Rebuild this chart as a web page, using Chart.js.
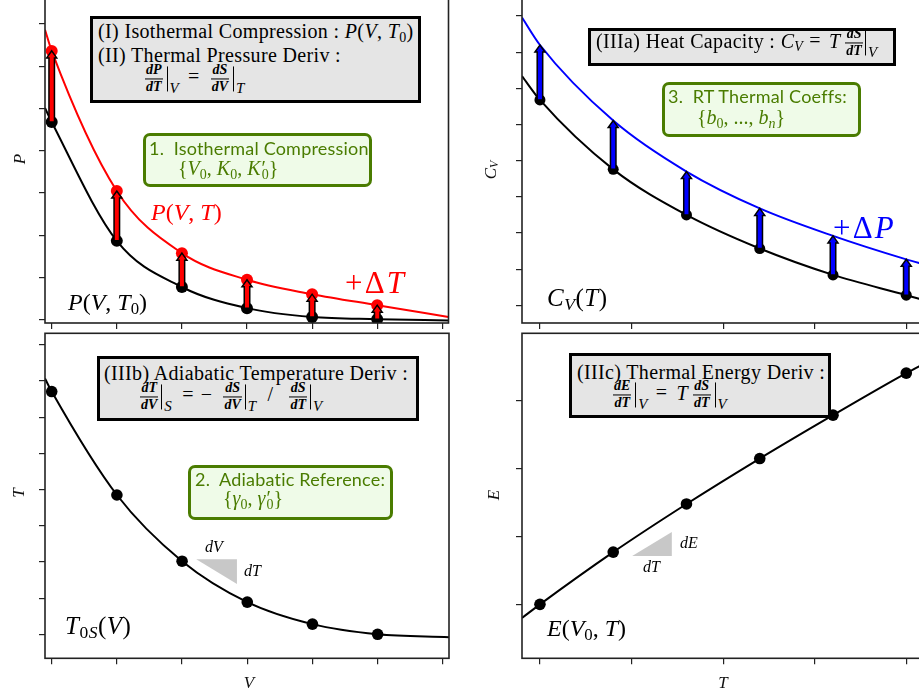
<!DOCTYPE html>
<html><head><meta charset="utf-8">
<script src="https://cdn.jsdelivr.net/npm/chart.js@4.4.1/dist/chart.umd.min.js"></script>
<style>
html,body{margin:0;padding:0;background:#fff;width:919px;height:696px;overflow:hidden;position:relative}
canvas{position:absolute;left:0;top:-10px}
.box{position:absolute;box-sizing:border-box;background:#e5e5e5;border:3px solid #000}
.gbox{position:absolute;box-sizing:border-box;background:#effbe8;border:3px solid #4a7c00;border-radius:7px}
.tx{position:absolute;white-space:nowrap;line-height:1;transform:translateY(-50%);font-family:'Liberation Serif',serif;color:#000}
.bx{font-size:20px;letter-spacing:0.35px}
.sf{font-family:'Lato',sans-serif;color:#4a7c00;font-size:18px;letter-spacing:0.2px}
.gm{color:#4a7c00}
.wide{letter-spacing:0.07em}
i{font-style:italic}
sub{font-size:70%;vertical-align:-0.25em;line-height:0}
.pr{margin-left:1px}
.ps{margin-left:-0.3em}
.fr{display:inline-block;vertical-align:middle;text-align:center;font-size:14px;line-height:1.0;font-style:italic;font-weight:bold;letter-spacing:0}
.fr .n{display:block;border-bottom:1px solid #000;padding:0 1px 1px}
.fr .d{display:block;padding:1px 1px 0}
.bar{display:inline-block;vertical-align:middle;border-left:1.3px solid #000;height:25px;margin-left:4px}
.bs{display:inline-block;vertical-align:-10px;font-style:italic;font-size:15px;line-height:1;margin-left:2px}
.eq{margin:0 11px 0 9px}
.ax{position:absolute;white-space:nowrap;line-height:1;font-family:'Liberation Serif',serif;font-style:italic;font-size:17px;color:#111;transform:translate(-50%,-50%)}
.rot{transform:translate(-50%,-50%) rotate(-90deg)}
</style></head>
<body>
<canvas id="cTL" width="960" height="720"></canvas>
<canvas id="cTR" width="960" height="720"></canvas>
<canvas id="cBL" width="960" height="720"></canvas>
<canvas id="cBR" width="960" height="720"></canvas>

<!-- Top-left annotations -->
<div class="box" style="left:90px;top:16px;width:331px;height:87px"></div>
<div class="tx bx" style="left:98px;top:31px">(I) Isothermal Compression : <i>P</i>(<i>V</i>, <i>T</i><sub>0</sub>)</div>
<div class="tx bx" style="left:98px;top:55px">(II) Thermal Pressure Deriv :</div>
<div class="tx bx" style="left:145px;top:80px"><span class="fr"><span class="n">dP</span><span class="d">dT</span></span><span class="bar"></span><span class="bs">V</span><span class="eq">=</span><span class="fr"><span class="n">dS</span><span class="d">dV</span></span><span class="bar"></span><span class="bs">T</span></div>
<div class="gbox" style="left:143px;top:133px;width:229px;height:54px"></div>
<div class="tx sf" style="left:149px;top:148px">1.&nbsp; Isothermal Compression</div>
<div class="tx gm" style="left:178px;top:168px;font-size:20px">{<i>V</i><sub>0</sub>, <i>K</i><sub>0</sub>, <i>K</i><span class="pr">′</span><sub class="ps">0</sub>}</div>
<div class="tx" style="left:151px;top:212px;font-size:24px;color:#f00"><i>P</i>(<i>V</i>, <i>T</i>)</div>
<div class="tx wide" style="left:345px;top:282px;font-size:31px;color:#f00">+Δ<i>T</i></div>
<div class="tx" style="left:68px;top:302px;font-size:24px"><i>P</i>(<i>V</i>, <i>T</i><sub>0</sub>)</div>
<div class="ax rot" style="left:19px;top:159px">P</div>

<!-- Top-right annotations -->
<div class="box" style="left:588px;top:28px;width:308px;height:38px"></div>
<div class="tx bx" style="left:596px;top:44px">(IIIa) Heat Capacity : <i>C</i><sub><i>V</i></sub><span style="margin:0 8px 0 6px">=</span><i>T</i><span style="margin-left:5px"></span><span class="fr"><span class="n">dS</span><span class="d">dT</span></span><span class="bar" style="margin-left:2px"></span><span class="bs">V</span></div>
<div class="gbox" style="left:662px;top:82px;width:199px;height:55px"></div>
<div class="tx sf" style="left:668px;top:96px">3.&nbsp; RT Thermal Coeffs:</div>
<div class="tx gm" style="left:697px;top:117px;font-size:20px">{<i>b</i><sub>0</sub>, ..., <i>b</i><sub><i>n</i></sub>}</div>
<div class="tx wide" style="left:833px;top:227px;font-size:31px;color:#00f">+Δ<i>P</i></div>
<div class="tx" style="left:547px;top:297px;font-size:25px;letter-spacing:0.5px"><i>C</i><sub><i>V</i></sub>(<i>T</i>)</div>
<div class="ax rot" style="left:490px;top:170px"><i>C</i><sub><i>V</i></sub></div>

<!-- Bottom-left annotations -->
<div class="box" style="left:97px;top:356px;width:322px;height:65px"></div>
<div class="tx bx" style="left:104px;top:373px">(IIIb) Adiabatic Temperature Deriv :</div>
<div class="tx bx" style="left:140px;top:398px"><span class="fr"><span class="n">dT</span><span class="d">dV</span></span><span class="bar" style="margin-left:3px"></span><span class="bs">S</span><span style="margin:0 7px 0 10px">=</span><span style="margin-right:11px">−</span><span class="fr"><span class="n">dS</span><span class="d">dV</span></span><span class="bar" style="margin-left:3px"></span><span class="bs">T</span><span style="margin:0 16px 0 11px">/</span><span class="fr"><span class="n">dS</span><span class="d">dT</span></span><span class="bar" style="margin-left:3px"></span><span class="bs">V</span></div>
<div class="gbox" style="left:188px;top:465px;width:205px;height:55px"></div>
<div class="tx sf" style="left:195px;top:479px">2.&nbsp; Adiabatic Reference:</div>
<div class="tx gm" style="left:223px;top:498px;font-size:20px">{<i>γ</i><sub>0</sub>, <i>γ</i><span class="pr">′</span><sub class="ps">0</sub>}</div>
<div class="tx" style="left:205px;top:547px;font-size:16px"><i>dV</i></div>
<div class="tx" style="left:244px;top:571px;font-size:16px"><i>dT</i></div>
<div class="tx" style="left:65px;top:625px;font-size:25px;letter-spacing:0.5px"><i>T</i><sub>0<i>S</i></sub>(<i>V</i>)</div>
<div class="ax rot" style="left:18px;top:493px">T</div>
<div class="ax" style="left:249px;top:682px">V</div>

<!-- Bottom-right annotations -->
<div class="box" style="left:569px;top:353px;width:262px;height:65px"></div>
<div class="tx bx" style="left:577px;top:372px">(IIIc) Thermal Energy Deriv :</div>
<div class="tx bx" style="left:613px;top:396px"><span class="fr"><span class="n">dE</span><span class="d">dT</span></span><span class="bar"></span><span class="bs">V</span><span style="margin:0 9px 0 8px">=</span><i>T</i><span style="margin-left:5px"></span><span class="fr"><span class="n">dS</span><span class="d">dT</span></span><span class="bar"></span><span class="bs">V</span></div>
<div class="tx" style="left:680px;top:543px;font-size:16px"><i>dE</i></div>
<div class="tx" style="left:643px;top:567px;font-size:16px"><i>dT</i></div>
<div class="tx" style="left:547px;top:628px;font-size:24px"><i>E</i>(<i>V</i><sub>0</sub>, <i>T</i>)</div>
<div class="ax rot" style="left:493px;top:495px">E</div>
<div class="ax" style="left:723px;top:682px">T</div>

<script>
// ---------------- data (axis units = tick spacing) ----------------
// Panel (I/II): pressure along isotherm T0 and at T0+dT
const V_POINTS   = [0, 1, 2, 3, 4, 5];
const P_ISOTHERM = [4.68, 1.87, 0.78, 0.28, 0.07, 0.02];   // P(V,T0)
const P_HOT      = [6.36, 3.05, 1.58, 0.95, 0.61, 0.35];   // P(V,T)
const P_ISOTHERM_EDGES = [5.01, -0.01];                     // curve at left / right frame
const P_HOT_EDGES      = [6.86, 0.07];

// Panel (IIIa): heat capacity vs T at reference and increased pressure
const T_POINTS  = [0, 0.8, 1.6, 2.4, 3.2, 4.0];
const CV_REF    = [5.68, 3.76, 2.50, 1.57, 0.84, 0.28];     // C_V(T)
const CV_PRESS  = [7.20, 5.11, 3.70, 2.68, 1.92, 1.27];     // C_V at +dP
const CV_REF_EDGES   = [6.34, 0.13];
const CV_PRESS_EDGES = [7.96, 1.12];

// Panel (IIIb): adiabat T0S(V)
const T0S       = [6.71, 3.85, 2.02, 0.89, 0.28, 0.00];
const T0S_EDGES = [7.07, -0.08];

// Panel (IIIc): thermal energy E(V0,T)
const E_V0       = [0.00, 0.77, 1.48, 2.15, 2.79, 3.41];
const E_V0_EDGES = [-0.20, 3.56];

// slope triangles
const TRI_DV_X = [2.217, 2.842, 2.842], TRI_DV_Y = [2.074, 2.074, 1.391];
const TRI_DE_X = [1.007, 1.440, 1.440], TRI_DE_Y = [0.712, 0.712, 1.066];

// axis ranges
const V_RANGE  = [-0.103, 6.095];
const TX_RANGE = [-0.196, 4.210];
const P_RANGE  = [-0.071, 7.61];
const CV_RANGE = [-0.49, 8.50];
const TY_RANGE = [-0.664, 8.32];
const E_RANGE  = [-0.796, 3.997];

// ---------------- drawing ----------------
const CW = 960, CH = 720, OX = 0, OY = -10, WY = 8, HX = 10;

const deco = {
  id: 'deco',
  beforeDatasetsDraw(chart, args, opts) {
    const {ctx, scales: {x, y}} = chart;
    const tri = opts.tri;
    if (!tri) return;
    ctx.save(); ctx.beginPath();
    tri.xs.forEach((xv, i) => {
      const px = x.getPixelForValue(xv), py = y.getPixelForValue(tri.ys[i]);
      i ? ctx.lineTo(px, py) : ctx.moveTo(px, py);
    });
    ctx.closePath(); ctx.fillStyle = '#c8c8c8'; ctx.fill(); ctx.restore();
  },
  afterDatasetsDraw(chart, args, opts) {
    const a = opts.arrows;
    if (!a) return;
    const {ctx, scales: {x, y}} = chart;
    a.xs.forEach((xv, i) => {
      const px = x.getPixelForValue(xv), y0 = y.getPixelForValue(a.from[i]), y1 = y.getPixelForValue(a.to[i]);
      const sw = a.shaft / 2, hw = a.head / 2, hl = Math.min(a.headLen, (y0 - y1) * 0.6);
      ctx.save(); ctx.beginPath();
      ctx.moveTo(px - sw, y0); ctx.lineTo(px - sw, y1 + hl); ctx.lineTo(px - hw, y1 + hl);
      ctx.lineTo(px, y1); ctx.lineTo(px + hw, y1 + hl); ctx.lineTo(px + sw, y1 + hl); ctx.lineTo(px + sw, y0);
      ctx.closePath(); ctx.fillStyle = a.color; ctx.fill();
      ctx.lineWidth = 1.5; ctx.strokeStyle = '#000'; ctx.lineJoin = 'miter'; ctx.stroke(); ctx.restore();
    });
  },
  afterDraw(chart) {
    const {ctx, chartArea: c} = chart;
    ctx.save(); ctx.strokeStyle = '#222'; ctx.lineWidth = 1.6;
    ctx.strokeRect(c.left, c.top, c.right - c.left, c.bottom - c.top); ctx.restore();
  }
};

function axis(range, isX) {
  return {
    type: 'linear', min: range[0], max: range[1],
    afterFit: s => { if (isX) s.height = HX; else s.width = WY; },
    border: {display: false},
    grid: {drawOnChartArea: false, drawTicks: true, tickLength: 6, color: '#222', lineWidth: 1.2},
    ticks: {display: false, stepSize: 1, includeBounds: false, autoSkip: false}
  };
}
function curve(xs, ys, edges, xr, color) {
  const pts = [{x: xr[0], y: edges[0]}].concat(xs.map((v, i) => ({x: v, y: ys[i]}))).concat([{x: xr[1], y: edges[1]}]);
  return {data: pts, borderColor: color, borderWidth: 2, pointRadius: 0, cubicInterpolationMode: 'monotone', fill: false};
}
function markers(xs, ys, color, r) {
  return {data: xs.map((v, i) => ({x: v, y: ys[i]})), showLine: false, pointRadius: r, pointBackgroundColor: color, pointBorderWidth: 0, borderColor: color};
}
function make(id, area, xr, yr, datasets, decoOpts) {
  const [L, T, R, B] = area;
  new Chart(document.getElementById(id), {
    type: 'line',
    data: {datasets},
    options: {
      responsive: false, animation: false, events: [],
      layout: {padding: {left: L - OX - WY, top: T - OY, right: OX + CW - R, bottom: OY + CH - B - HX}},
      plugins: {legend: {display: false}, tooltip: {enabled: false}, deco: decoOpts},
      scales: {x: axis(xr, true), y: axis(yr, false)}
    },
    plugins: [deco]
  });
}

make('cTL', [45, -2, 448.5, 323], V_RANGE, P_RANGE, [
  curve(V_POINTS, P_ISOTHERM, P_ISOTHERM_EDGES, V_RANGE, '#000'),
  curve(V_POINTS, P_HOT, P_HOT_EDGES, V_RANGE, '#ff0000'),
  markers(V_POINTS, P_ISOTHERM, '#000', 6),
  markers(V_POINTS, P_HOT, '#ff0000', 6)
], {arrows: {xs: V_POINTS, from: P_ISOTHERM, to: P_HOT, color: '#ff0000', shaft: 5.5, head: 10, headLen: 7}});

make('cTR', [522, -2, 925.5, 323], TX_RANGE, CV_RANGE, [
  curve(T_POINTS, CV_REF, CV_REF_EDGES, TX_RANGE, '#000'),
  curve(T_POINTS, CV_PRESS, CV_PRESS_EDGES, TX_RANGE, '#0000ff'),
  markers(T_POINTS, CV_REF, '#000', 5.5)
], {arrows: {xs: T_POINTS, from: CV_REF, to: CV_PRESS, color: '#0000ff', shaft: 5.5, head: 10, headLen: 7}});

make('cBL', [45, 333.3, 449, 658.3], V_RANGE, TY_RANGE, [
  curve(V_POINTS, T0S, T0S_EDGES, V_RANGE, '#000'),
  markers(V_POINTS, T0S, '#000', 5.8)
], {tri: {xs: TRI_DV_X, ys: TRI_DV_Y}});

make('cBR', [522, 333.3, 925.5, 658.3], TX_RANGE, E_RANGE, [
  curve(T_POINTS, E_V0, E_V0_EDGES, TX_RANGE, '#000'),
  markers(T_POINTS, E_V0, '#000', 5.8)
], {tri: {xs: TRI_DE_X, ys: TRI_DE_Y}});
</script>
</body></html>
